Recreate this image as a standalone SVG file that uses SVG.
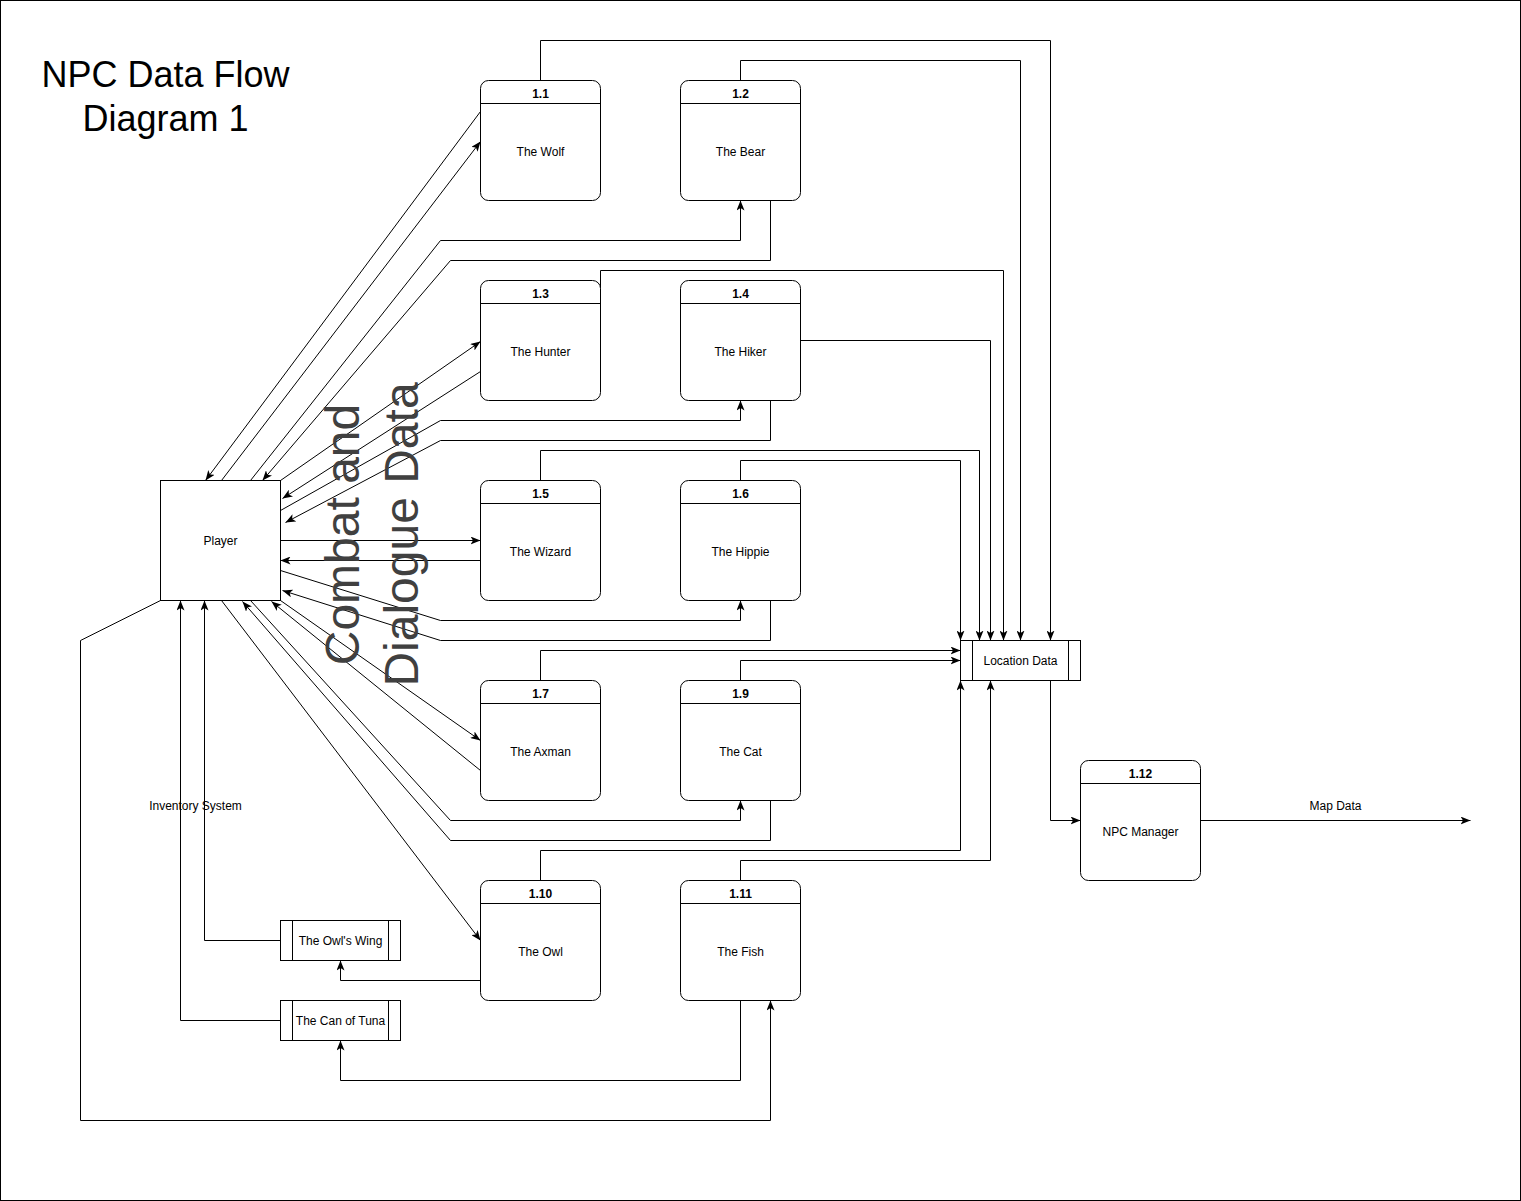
<svg xmlns="http://www.w3.org/2000/svg" width="1521" height="1201" viewBox="0 0 1521 1201">
<defs>
<style>
text{font-family:"Liberation Sans",Arial,sans-serif;fill:#000}
.t{font-size:12px;text-anchor:middle}
.h{font-size:12px;font-weight:bold;text-anchor:middle}
.box{fill:#fff;stroke:#000;stroke-width:1}
.c{fill:none;stroke:#000;stroke-width:1}
.a{marker-end:url(#arr)}
.big{font-size:36px;text-anchor:middle}
.rot{font-size:48px;text-anchor:middle;fill:#404040}
</style>
<marker id="arr" viewBox="0 0 10 8" refX="10" refY="4" markerWidth="10" markerHeight="8" markerUnits="userSpaceOnUse" orient="auto">
<path d="M0,0 L10,4 L0,8 L2.5,4 Z" fill="#000"/>
</marker>
</defs>
<rect x="0.5" y="0.5" width="1520" height="1200" fill="#fff" stroke="#000"/>
<g transform="translate(0.5,0.5)">
<g id="title">
<text class="big" x="165" y="86">NPC Data Flow</text>
<text class="big" x="165" y="130">Diagram 1</text>
</g>
<g id="connectors">
<polyline class="c a" points="480,111 205,480"/>
<polyline class="c a" points="221,480 480,141"/>
<polyline class="c a" points="540,80 540,40 1050,40 1050,640"/>
<polyline class="c a" points="250,480 440,240 740,240 740,200"/>
<polyline class="c a" points="770,200 770,260 450,260 262,480"/>
<polyline class="c a" points="740,80 740,60 1020,60 1020,640"/>
<polyline class="c a" points="280,480 480,341"/>
<polyline class="c a" points="480,371 282,498"/>
<polyline class="c a" points="600,290 600,270 1003,270 1003,640"/>
<polyline class="c a" points="280,510 440,420 740,420 740,400"/>
<polyline class="c a" points="770,400 770,440 440,440 285,522"/>
<polyline class="c a" points="800,340 990,340 990,640"/>
<polyline class="c a" points="280,540 480,540"/>
<polyline class="c a" points="480,560 280,560"/>
<polyline class="c a" points="540,480 540,450 979,450 979,640"/>
<polyline class="c a" points="280,570 440,620 740,620 740,600"/>
<polyline class="c a" points="770,600 770,640 440,640 282,590"/>
<polyline class="c a" points="740,480 740,460 960,460 960,640"/>
<polyline class="c a" points="280,600 480,740"/>
<polyline class="c a" points="480,770 271,601"/>
<polyline class="c a" points="540,680 540,650 960,650"/>
<polyline class="c a" points="250,600 450,820 740,820 740,800"/>
<polyline class="c a" points="770,800 770,840 450,840 242,601"/>
<polyline class="c a" points="740,680 740,660 960,660"/>
<polyline class="c a" points="221,600 480,940"/>
<polyline class="c a" points="480,980 340,980 340,960"/>
<polyline class="c a" points="280,940 204,940 204,600"/>
<polyline class="c a" points="540,880 540,850 960,850 960,680"/>
<polyline class="c a" points="740,1000 740,1080 340,1080 340,1040"/>
<polyline class="c a" points="280,1020 180,1020 180,600"/>
<polyline class="c a" points="160,600 80,640 80,1120 770,1120 770,1000"/>
<polyline class="c a" points="740,880 740,860 990,860 990,680"/>
<polyline class="c a" points="1050,680 1050,820 1080,820"/>
<polyline class="c a" points="1200,820 1470,820"/>
</g>
<g id="labels">
<text class="rot" transform="translate(358,534) rotate(-90)">Combat and</text>
<text class="rot" transform="translate(417,534) rotate(-90)">Dialogue Data</text>
<text class="t" x="195" y="809">Inventory System</text>
<text class="t" x="1335" y="809">Map Data</text>
</g>
<g id="player">
<rect class="box" x="160" y="480" width="120" height="120"/>
<text class="t" x="220" y="544">Player</text>
</g>
<g id="n1_1">
<rect class="box" x="480" y="80" width="120" height="120" rx="8"/>
<line class="c" x1="480" y1="103" x2="600" y2="103"/>
<text class="h" x="540" y="97">1.1</text>
<text class="t" x="540" y="155">The Wolf</text>
</g>
<g id="n1_2">
<rect class="box" x="680" y="80" width="120" height="120" rx="8"/>
<line class="c" x1="680" y1="103" x2="800" y2="103"/>
<text class="h" x="740" y="97">1.2</text>
<text class="t" x="740" y="155">The Bear</text>
</g>
<g id="n1_3">
<rect class="box" x="480" y="280" width="120" height="120" rx="8"/>
<line class="c" x1="480" y1="303" x2="600" y2="303"/>
<text class="h" x="540" y="297">1.3</text>
<text class="t" x="540" y="355">The Hunter</text>
</g>
<g id="n1_4">
<rect class="box" x="680" y="280" width="120" height="120" rx="8"/>
<line class="c" x1="680" y1="303" x2="800" y2="303"/>
<text class="h" x="740" y="297">1.4</text>
<text class="t" x="740" y="355">The Hiker</text>
</g>
<g id="n1_5">
<rect class="box" x="480" y="480" width="120" height="120" rx="8"/>
<line class="c" x1="480" y1="503" x2="600" y2="503"/>
<text class="h" x="540" y="497">1.5</text>
<text class="t" x="540" y="555">The Wizard</text>
</g>
<g id="n1_6">
<rect class="box" x="680" y="480" width="120" height="120" rx="8"/>
<line class="c" x1="680" y1="503" x2="800" y2="503"/>
<text class="h" x="740" y="497">1.6</text>
<text class="t" x="740" y="555">The Hippie</text>
</g>
<g id="n1_7">
<rect class="box" x="480" y="680" width="120" height="120" rx="8"/>
<line class="c" x1="480" y1="703" x2="600" y2="703"/>
<text class="h" x="540" y="697">1.7</text>
<text class="t" x="540" y="755">The Axman</text>
</g>
<g id="n1_9">
<rect class="box" x="680" y="680" width="120" height="120" rx="8"/>
<line class="c" x1="680" y1="703" x2="800" y2="703"/>
<text class="h" x="740" y="697">1.9</text>
<text class="t" x="740" y="755">The Cat</text>
</g>
<g id="n1_10">
<rect class="box" x="480" y="880" width="120" height="120" rx="8"/>
<line class="c" x1="480" y1="903" x2="600" y2="903"/>
<text class="h" x="540" y="897">1.10</text>
<text class="t" x="540" y="955">The Owl</text>
</g>
<g id="n1_11">
<rect class="box" x="680" y="880" width="120" height="120" rx="8"/>
<line class="c" x1="680" y1="903" x2="800" y2="903"/>
<text class="h" x="740" y="897">1.11</text>
<text class="t" x="740" y="955">The Fish</text>
</g>
<g id="n1_12">
<rect class="box" x="1080" y="760" width="120" height="120" rx="8"/>
<line class="c" x1="1080" y1="783" x2="1200" y2="783"/>
<text class="h" x="1140" y="777">1.12</text>
<text class="t" x="1140" y="835">NPC Manager</text>
</g>
<g id="location_data">
<rect class="box" x="960" y="640" width="120" height="40"/>
<line class="c" x1="972" y1="640" x2="972" y2="680"/>
<line class="c" x1="1068" y1="640" x2="1068" y2="680"/>
<text class="t" x="1020" y="664">Location Data</text>
</g>
<g id="owls_wing">
<rect class="box" x="280" y="920" width="120" height="40"/>
<line class="c" x1="292" y1="920" x2="292" y2="960"/>
<line class="c" x1="388" y1="920" x2="388" y2="960"/>
<text class="t" x="340" y="944">The Owl's Wing</text>
</g>
<g id="can_of_tuna">
<rect class="box" x="280" y="1000" width="120" height="40"/>
<line class="c" x1="292" y1="1000" x2="292" y2="1040"/>
<line class="c" x1="388" y1="1000" x2="388" y2="1040"/>
<text class="t" x="340" y="1024">The Can of Tuna</text>
</g>
</g>
</svg>
